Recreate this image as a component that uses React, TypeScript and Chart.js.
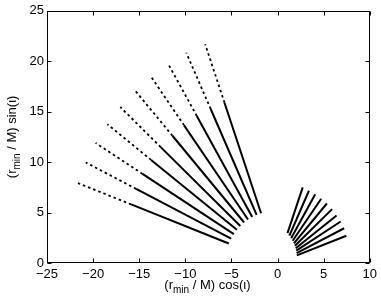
import React, { useEffect, useRef } from "react";
import { Chart, registerables } from "chart.js";

Chart.register(...registerables);

// Axis ticks
const xTicks = [-25, -20, -15, -10, -5, 0, 5, 10];
const yTicks = [0, 5, 10, 15, 20, 25];

// Left fan (angle ι in degrees, radii r_min/M): solid from inner to switch, dotted to outer
const leftAngles = [159.9, 154.4, 148.9, 143.3, 137.8, 132.1, 126.6, 121.0, 115.4, 109.9];
const leftInnerR = [5.63, 5.58, 5.54, 5.5, 5.45, 5.41, 5.37, 5.33, 5.29, 5.25];
const leftSwitchR = [16.9, 17.0, 17.1, 17.1, 17.1, 17.0, 17.0, 17.0, 16.9, 16.9];
const leftOuterR = [23.05, 23.05, 23.04, 23.02, 23.02, 23.02, 23.06, 23.06, 23.07, 23.07];

// Right fan
const rightAngles = [70.0, 64.6, 59.1, 53.4, 47.8, 42.1, 36.4, 31.0, 25.5, 19.9];
const rightInnerR = [3.15, 3.0, 2.87, 2.75, 2.64, 2.54, 2.45, 2.37, 2.29, 2.22];
const rightOuterR = [7.98, 7.93, 7.95, 7.94, 7.96, 7.97, 7.95, 7.99, 8.0, 7.94];

const FONT = "'Liberation Sans', Arial, Helvetica, sans-serif";

function pt(r: number, deg: number) {
  const a = (deg * Math.PI) / 180;
  return { x: r * Math.cos(a), y: r * Math.sin(a) };
}

const fmt = (v: number) => (v < 0 ? "\u2212" + Math.abs(v) : String(v));

const framePlugin = {
  id: "matlabFrame",
  afterDraw(chart: any) {
    const { ctx, chartArea } = chart;
    const { left, right, top, bottom } = chartArea;
    const xs = chart.scales.x;
    const ys = chart.scales.y;
    ctx.save();
    ctx.strokeStyle = "#000";
    ctx.lineWidth = 1;
    const L = Math.round(left) + 0.5;
    const R = Math.round(right) - 0.5;
    const T = Math.round(top) + 0.5;
    const B = Math.round(bottom) - 0.5;
    ctx.strokeRect(L, T, R - L, B - T);
    const tl = 4;
    ctx.beginPath();
    xTicks.forEach((v) => {
      const px = Math.round(xs.getPixelForValue(v)) + 0.5;
      ctx.moveTo(px, B);
      ctx.lineTo(px, B - tl);
      ctx.moveTo(px, T);
      ctx.lineTo(px, T + tl);
    });
    yTicks.forEach((v) => {
      const py = Math.round(ys.getPixelForValue(v)) + 0.5;
      ctx.moveTo(L, py);
      ctx.lineTo(L + tl, py);
      ctx.moveTo(R, py);
      ctx.lineTo(R - tl, py);
    });
    ctx.stroke();

    // Axis titles with subscript
    const drawTitle = (trig: string, cx: number, cy: number, rotate: boolean) => {
      ctx.save();
      ctx.translate(cx, cy);
      if (rotate) ctx.rotate(-Math.PI / 2);
      ctx.fillStyle = "#000";
      ctx.textBaseline = "alphabetic";
      ctx.textAlign = "left";
      const main = "13px " + FONT;
      const sub = "10px " + FONT;
      const p1 = "(r";
      const s = "min";
      const p2 = " / M) " + trig + "(\u03B9)";
      ctx.font = main;
      const w1 = ctx.measureText(p1).width;
      const w3 = ctx.measureText(p2).width;
      ctx.font = sub;
      const w2 = ctx.measureText(s).width;
      const total = w1 + w2 + w3;
      let x0 = -total / 2;
      ctx.font = main;
      ctx.fillText(p1, x0, 0);
      x0 += w1;
      ctx.font = sub;
      ctx.fillText(s, x0, 4);
      x0 += w2;
      ctx.font = main;
      ctx.fillText(p2, x0, 0);
      ctx.restore();
    };
    const cx = (left + right) / 2;
    const cy = (top + bottom) / 2;
    drawTitle("cos", cx - 1, 289, false);
    drawTitle("sin", 16, cy, true);
    ctx.restore();
  },
};

export default function App() {
  const ref = useRef<HTMLCanvasElement | null>(null);

  useEffect(() => {
    if (!ref.current) return;
    const datasets: any[] = [];
    const base = {
      borderColor: "#000",
      backgroundColor: "#000",
      pointRadius: 0,
      fill: false,
      tension: 0,
    };
    leftAngles.forEach((a, i) => {
      datasets.push({
        ...base,
        borderWidth: 2,
        data: [pt(leftInnerR[i], a), pt(leftSwitchR[i], a)],
      });
      datasets.push({
        ...base,
        borderWidth: 1.8,
        borderDash: [2.5, 3],
        data: [pt(leftSwitchR[i], a), pt(leftOuterR[i], a)],
      });
    });
    rightAngles.forEach((a, i) => {
      datasets.push({
        ...base,
        borderWidth: 2,
        data: [pt(rightInnerR[i], a), pt(rightOuterR[i], a)],
      });
    });

    const chart = new Chart(ref.current, {
      type: "line",
      data: { datasets },
      options: {
        animation: false,
        responsive: false,
        maintainAspectRatio: false,
        layout: { padding: { top: 10, right: 10, left: 0, bottom: 0 } },
        plugins: {
          legend: { display: false },
          tooltip: { enabled: false },
        },
        scales: {
          x: {
            type: "linear",
            min: -25,
            max: 10,
            grid: { display: false, drawTicks: false },
            border: { display: false },
            afterBuildTicks: (scale: any) => {
              scale.ticks = xTicks.map((v) => ({ value: v }));
            },
            afterFit: (scale: any) => {
              scale.height = 37;
            },
            ticks: {
              padding: 4,
              color: "#000",
              font: { family: FONT, size: 13 },
              maxRotation: 0,
              callback: (v: any) => fmt(Number(v)),
            },
          },
          y: {
            type: "linear",
            min: 0,
            max: 25,
            grid: { display: false, drawTicks: false },
            border: { display: false },
            afterBuildTicks: (scale: any) => {
              scale.ticks = yTicks.map((v) => ({ value: v }));
            },
            afterFit: (scale: any) => {
              scale.width = 47;
            },
            ticks: {
              padding: 3,
              color: "#000",
              font: { family: FONT, size: 13 },
              callback: (v: any) => fmt(Number(v)),
            },
          },
        },
      },
      plugins: [framePlugin],
    });
    return () => chart.destroy();
  }, []);

  return (
    <div style={{ position: "absolute", left: 0, top: 0, width: 381, height: 300, background: "#fff" }}>
      <canvas ref={ref} width={381} height={300} />
    </div>
  );
}
